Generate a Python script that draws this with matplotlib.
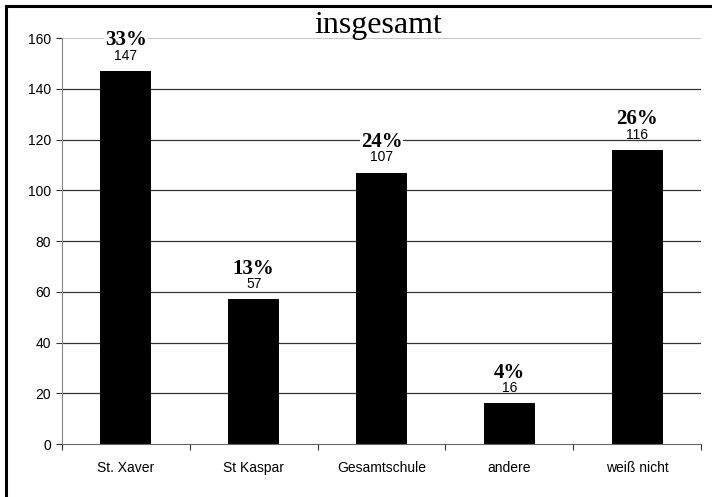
import matplotlib.pyplot as plt
from matplotlib.patches import Rectangle

# data
categories = ["St. Xaver", "St Kaspar", "Gesamtschule", "andere", "weiß nicht"]
counts = [147, 57, 107, 16, 116]
percents = ["33%", "13%", "24%", "4%", "26%"]

fig = plt.figure(figsize=(7.12, 4.97), dpi=100)
ax = fig.add_axes([0.0871, 0.1066, 0.8975, 0.8169])

x = range(len(categories))
bars = ax.bar(x, counts, width=0.4, color="black", zorder=3)

ax.set_xlim(-0.5, len(categories) - 0.5)
ax.set_ylim(0, 160)
ax.set_yticks(range(0, 161, 20))
ax.set_xticks(list(x))
ax.set_xticklabels(categories, fontsize=10, family="Liberation Sans")
ax.tick_params(axis="x", length=0, pad=12)
ax.tick_params(axis="y", length=4, width=0.8, labelsize=10, pad=4, color="#333333")
for lab in ax.get_yticklabels():
    lab.set_family("Liberation Sans")

# ticks between categories on x axis
ax.set_xticks([i + 0.5 for i in range(-1, len(categories))], minor=True)
ax.tick_params(axis="x", which="minor", length=4, width=0.8, direction="out", color="#333333")

for y in range(20, 141, 20):
    ax.axhline(y, color="#333333", lw=0.9, zorder=1)
ax.axhline(160, color="#c8c8c8", lw=1.5, zorder=1)

for s in ["top", "right"]:
    ax.spines[s].set_visible(False)
ax.spines["left"].set_color("#888888")
ax.spines["bottom"].set_color("#666666")

for b, n, p in zip(bars, counts, percents):
    cx = b.get_x() + b.get_width() / 2
    ax.annotate(p, (cx, n), xytext=(0, 18.5), textcoords="offset points",
                ha="center", va="baseline", fontsize=15, fontweight="bold",
                family="Liberation Serif", zorder=4,
                bbox=dict(boxstyle="square,pad=0.05", fc="white", ec="none"))
    ax.annotate(str(n), (cx, n), xytext=(0, 8), textcoords="offset points",
                ha="center", va="baseline", fontsize=10, family="Liberation Sans",
                zorder=5)

fig.text(0.531, 1 - 33 / 497, "insgesamt", ha="center", va="baseline",
         fontsize=23, family="Liberation Serif")

# outer frame, only left and top edges visible
fig.patches.append(Rectangle((0.008, -0.1), 1.2, 1.088, transform=fig.transFigure,
                             fill=False, edgecolor="black", lw=2.2))

fig.savefig("out.png", dpi=100)
